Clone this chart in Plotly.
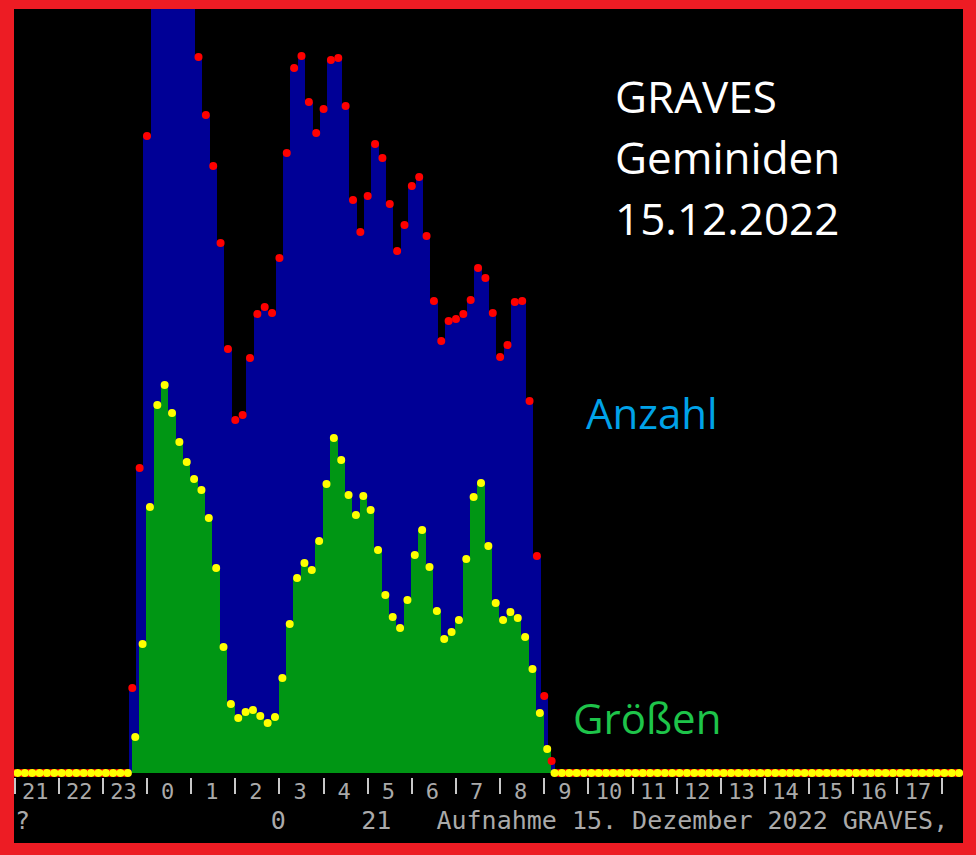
import pandas as pd
import plotly.graph_objects as go

# ---------------- data ----------------
axis_start = "2022-12-14 21:00"      # first 10-minute bin
axis_bins = 129                      # 21:00 ... 18:20 (next day)
bin_minutes = 10
active_start = "2022-12-14 23:40"    # first non-zero bin
groessen_shift_min = 4               # green series is drawn slightly shifted

# Anzahl (blue, red dots) 23:40 ... 09:10, relative units
anzahl = [85, 305, 637, 820, 900, 880, 850, 820, 790, 716, 658, 607, 530, 424,
          353, 358, 415, 459, 466, 460, 515, 620, 705, 717, 671, 640, 664, 713,
          715, 667, 573, 541, 577, 629, 615, 569, 522, 548, 587, 596, 537, 472,
          432, 452, 454, 459, 473, 505, 495, 460, 416, 428, 471, 472, 372, 217,
          77, 12]
# Größen (green, yellow dots) 23:40 ... 09:10, relative units
groessen = [36, 129, 266, 368, 388, 360, 331, 311, 294, 283, 255, 205, 126, 69,
            55, 61, 63, 57, 50, 56, 95, 149, 195, 210, 203, 232, 289, 335, 313,
            278, 258, 277, 263, 223, 178, 156, 145, 173, 218, 243, 206, 162, 134,
            141, 153, 214, 276, 290, 227, 170, 153, 161, 155, 136, 104, 60, 24, 0]

hour_labels = ["21", "22", "23", "0", "1", "2", "3", "4", "5", "6", "7", "8", "9",
               "10", "11", "12", "13", "14", "15", "16", "17"]
n_hour_ticks = 22

x_range = ["2022-12-14 20:59:12", "2022-12-15 18:29:12"]
y_range = [-70, 764]

title_lines = ["GRAVES", "Geminiden", "15.12.2022"]
label_anzahl = "Anzahl"
label_groessen = "Größen"
footer = "?" + "\u00a0" * 16 + "0" + "\u00a0" * 5 + "21" + "\u00a0" * 3 + "Aufnahme 15. Dezember 2022 GRAVES,"

# ---------------- build series ----------------
times = pd.date_range(axis_start, periods=axis_bins, freq=f"{bin_minutes}min")
offset = int((pd.Timestamp(active_start) - pd.Timestamp(axis_start)) / pd.Timedelta(minutes=bin_minutes))
a_full = [0] * axis_bins
g_full = [0] * axis_bins
for i, v in enumerate(anzahl):
    a_full[offset + i] = v
for i, v in enumerate(groessen):
    g_full[offset + i] = v
times_g = times + pd.Timedelta(minutes=groessen_shift_min)
bar_w = bin_minutes * 60 * 1000

hour_ticks = pd.date_range(axis_start, periods=n_hour_ticks, freq="60min")
label_pos = pd.date_range(axis_start, periods=len(hour_labels), freq="60min") + pd.Timedelta(minutes=28)

BLUE = "#000096"
GREEN = "#009614"

fig = go.Figure()
fig.add_trace(go.Bar(x=times, y=a_full, width=bar_w, marker=dict(color=BLUE, line_width=0), hoverinfo="skip"))
fig.add_trace(go.Bar(x=times_g, y=g_full, width=bar_w, marker=dict(color=GREEN, line_width=0), hoverinfo="skip"))
fig.add_trace(go.Scatter(x=times, y=a_full, mode="markers", marker=dict(color="#FF0000", size=8, line_width=0)))
fig.add_trace(go.Scatter(x=times_g, y=g_full, mode="markers", marker=dict(color="#FFFF00", size=8, line_width=0)))
# dummy trace so the label axis is drawn
fig.add_trace(go.Scatter(x=[times[0]], y=[None], xaxis="x2", mode="markers", showlegend=False))

W, H = 976, 855
ml, mr, mt, mb = 14, 13, 9, 12
pw, ph = W - ml - mr, H - mt - mb


def px_x(px):
    return (px - ml) / pw


def px_y(py):
    return (H - mb - py) / ph


fig.update_layout(
    width=W, height=H,
    margin=dict(l=ml, r=mr, t=mt, b=mb, autoexpand=False),
    paper_bgcolor="#ED1C24",
    plot_bgcolor="#000000",
    barmode="overlay", bargap=0,
    showlegend=False,
    xaxis=dict(type="date", range=x_range, anchor="free", position=px_y(777),
               showgrid=False, zeroline=False, showline=False, automargin=False,
               ticks="outside", ticklen=16, tickwidth=2, tickcolor="#C8C8C8",
               tickmode="array", tickvals=list(hour_ticks),
               showticklabels=False),
    xaxis2=dict(type="date", range=x_range, overlaying="x", anchor="free",
                position=px_y(776), showgrid=False, zeroline=False, showline=False,
                automargin=False,
                ticks="", tickmode="array", tickvals=list(label_pos), ticktext=hour_labels,
                tickfont=dict(family="DejaVu Sans Mono", size=22, color="#AAAAAA")),
    yaxis=dict(range=y_range, visible=False, showgrid=False, zeroline=False),
)

ann = []
for line, py in zip(title_lines, [96, 157, 218]):
    ann.append(dict(text=line, x=px_x(613), y=px_y(py), xref="paper", yref="paper",
                    xanchor="left", yanchor="middle", showarrow=False,
                    font=dict(family="Open Sans", size=44, color="#FFFFFF")))
ann.append(dict(text=label_anzahl, x=px_x(584), y=px_y(412), xref="paper", yref="paper",
                xanchor="left", yanchor="middle", showarrow=False,
                font=dict(family="Open Sans", size=42, color="#00A2E8")))
ann.append(dict(text=label_groessen, x=px_x(571), y=px_y(717), xref="paper", yref="paper",
                xanchor="left", yanchor="middle", showarrow=False,
                font=dict(family="Open Sans", size=42, color="#1EC44A")))
ann.append(dict(text=footer, x=px_x(13), y=px_y(820), xref="paper", yref="paper",
                xanchor="left", yanchor="middle", showarrow=False,
                font=dict(family="DejaVu Sans Mono", size=25, color="#AAAAAA")))
fig.update_layout(annotations=ann)

fig.write_html(
    "out.html",
    config={"displayModeBar": False},
    post_script="document.body.style.margin='0';document.body.style.padding='0';"
                "document.body.style.overflow='hidden';document.body.style.background='#ED1C24';",
)
